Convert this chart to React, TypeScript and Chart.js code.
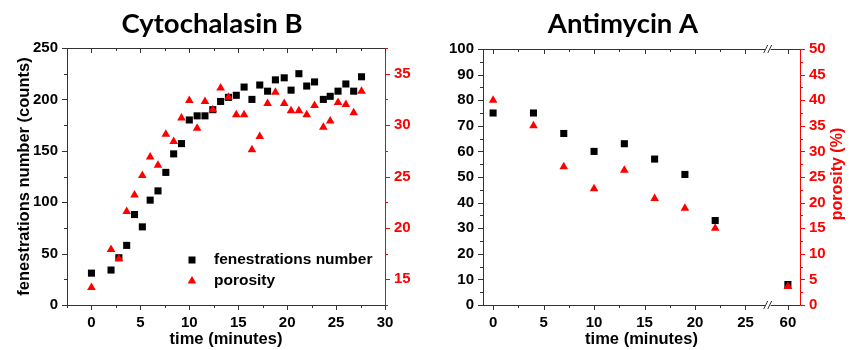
import React, { useEffect, useRef } from 'react';
import { Chart, registerables } from 'chart.js';

Chart.register(...registerables);

// ---------- Cytochalasin B (left panel) ----------
const CB_TIME = [0, 2.0, 2.8, 3.6, 4.4, 5.2, 6.0, 6.8, 7.6, 8.4, 9.2, 10.0, 10.8, 11.6, 12.4, 13.2, 14.0, 14.8, 15.6, 16.4, 17.2, 18.0, 18.8, 19.7, 20.4, 21.2, 22.0, 22.8, 23.7, 24.4, 25.2, 26.0, 26.8, 27.6];
const CB_FEN = [31, 34, 46, 58, 88, 76, 102, 111, 129, 147, 157, 180, 184, 184, 190, 198, 202, 204, 212, 200, 214, 208, 219, 221, 209, 225, 213, 217, 200, 203, 208, 215, 208, 222];
const CB_POR = [14.2, 17.9, 17.0, 21.6, 23.2, 25.1, 26.9, 26.1, 29.1, 28.4, 30.7, 32.4, 29.7, 32.3, 31.5, 33.6, 32.7, 31.0, 31.0, 27.6, 28.9, 32.1, 33.2, 32.1, 31.4, 31.4, 31.0, 31.9, 29.8, 30.4, 32.2, 32.0, 31.2, 33.3];

// ---------- Antimycin A (right panel) ----------
const AA_TIME = [0, 4, 7, 10, 13, 16, 19, 22, 60];
const AA_FEN = [75, 75, 67, 60, 63, 57, 51, 33, 8];
const AA_POR = [40, 35, 27, 22.7, 26.3, 20.8, 18.9, 15, 3.6];
const AA_X_TICKS = [0, 2.5, 5, 7.5, 10, 12.5, 15, 17.5, 20, 22.5, 25, 60];

const TITLES = ['Cytochalasin B', 'Antimycin A'];
const SERIES_NAMES = ['fenestrations number', 'porosity'];
const X_TITLE = 'time (minutes)';
const Y_TITLE = 'fenestrations number (counts)';
const Y2_TITLE = 'porosity (%)';

// broken x axis of the right panel
const BREAK_POS = 27.3;
const GAP = 30.8;
const toPos = (t: number) => (t > BREAK_POS ? t - GAP : t);
const fromPos = (v: number) => (v > BREAK_POS ? v + GAP : v);

const FONT = '"Liberation Sans", Arial, sans-serif';
const TITLE_FONT = 'Lato, "Open Sans", sans-serif';
const RED = '#ff0000';
const AXIS = '#333333';

const isMult = (v: number, step: number) => Math.abs(v / step - Math.round(v / step)) < 1e-6;
const labelEvery = (step: number) => (v: any) => (isMult(Number(v), step) ? String(Math.round(Number(v) * 100) / 100) : '');

const tickFont = { family: FONT, size: 15, weight: 'bold' as const };
const titleFont = { family: FONT, size: 16.5, weight: 'bold' as const };
const gridOpts = { display: true, drawOnChartArea: false, drawTicks: true, tickLength: 5, tickColor: 'rgba(0,0,0,0)' };

const extrasPlugin = {
  id: 'extras',
  afterDraw(chart: any, _args: any, o: any) {
    const { ctx, chartArea: a, scales } = chart;
    ctx.save();
    const line = (x1: number, y1: number, x2: number, y2: number, color: string) => {
      ctx.strokeStyle = color;
      ctx.lineWidth = 1;
      ctx.beginPath();
      ctx.moveTo(x1, y1);
      ctx.lineTo(x2, y2);
      ctx.stroke();
    };
    // top frame
    line(a.left, Math.round(a.top) + 0.5, a.right, Math.round(a.top) + 0.5, AXIS);
    // x ticks (bottom outward, top inward)
    const xs = scales.x;
    xs.ticks.forEach((t: any) => {
      const px = Math.round(xs.getPixelForValue(t.value)) + 0.5;
      const len = t.label !== '' ? 5 : 3;
      line(px, a.bottom, px, a.bottom + len, AXIS);
      line(px, a.top, px, a.top + len, AXIS);
    });
    const ys = scales.y;
    ys.ticks.forEach((t: any) => {
      const py = Math.round(ys.getPixelForValue(t.value)) + 0.5;
      const len = t.label !== '' ? 5 : 3;
      line(a.left - len, py, a.left, py, AXIS);
    });
    const y2 = scales.y2;
    y2.ticks.forEach((t: any) => {
      const py = Math.round(y2.getPixelForValue(t.value)) + 0.5;
      const len = t.label !== '' ? 5 : 3;
      line(a.right, py, a.right + len, py, RED);
    });
    // axis break
    if (o.breakPos != null) {
      const px = xs.getPixelForValue(o.breakPos);
      [a.top, a.bottom].forEach((yy: number) => {
        ctx.fillStyle = '#ffffff';
        ctx.fillRect(px - 3, yy - 2, 5, 4);
        line(px - 5, yy + 4, px - 1, yy - 4, AXIS);
        line(px - 1, yy + 4, px + 3, yy - 4, AXIS);
      });
    }
    // panel title
    ctx.fillStyle = '#000';
    ctx.font = `bold ${o.titleSize}px ${TITLE_FONT}`;
    ctx.textAlign = 'center';
    ctx.textBaseline = 'alphabetic';
    ctx.fillText(o.title, o.titleX, o.titleY);
    // legend inside the plot
    if (o.legend) {
      ctx.font = `bold 15.5px ${FONT}`;
      ctx.textAlign = 'left';
      ctx.textBaseline = 'middle';
      chart.data.datasets.forEach((ds: any, i: number) => {
        const cx = a.left + 125;
        const cy = a.bottom - 45 + i * 21;
        ctx.fillStyle = ds.backgroundColor;
        if (ds.pointStyle === 'rect') {
          ctx.fillRect(cx - 3.5, cy - 3.5, 7, 7);
        } else {
          const r = 5;
          ctx.beginPath();
          ctx.moveTo(cx, cy - r);
          ctx.lineTo(cx + r * 0.866, cy + r / 2);
          ctx.lineTo(cx - r * 0.866, cy + r / 2);
          ctx.closePath();
          ctx.fill();
        }
        ctx.fillStyle = '#000';
        ctx.fillText(ds.label, a.left + 147, cy);
      });
    }
    // right axis title (reads bottom to top)
    if (o.rightTitle) {
      ctx.translate(a.right + 38, (a.top + a.bottom) / 2 - 3);
      ctx.rotate(-Math.PI / 2);
      ctx.fillStyle = RED;
      ctx.font = `bold 16px ${FONT}`;
      ctx.textAlign = 'center';
      ctx.textBaseline = 'middle';
      ctx.fillText(o.rightTitle, 0, 0);
    }
    ctx.restore();
  },
};

function datasets(times: number[], fen: number[], por: number[], mapX: (t: number) => number) {
  return [
    {
      label: SERIES_NAMES[0],
      data: times.map((t, i) => ({ x: mapX(t), y: fen[i] })),
      yAxisID: 'y',
      pointStyle: 'rect',
      pointRadius: 5,
      pointHoverRadius: 5,
      backgroundColor: '#000000',
      borderColor: '#000000',
      borderWidth: 0,
      showLine: false,
      order: 1,
    },
    {
      label: SERIES_NAMES[1],
      data: times.map((t, i) => ({ x: mapX(t), y: por[i] })),
      yAxisID: 'y2',
      pointStyle: 'triangle',
      pointRadius: 5,
      pointHoverRadius: 5,
      backgroundColor: RED,
      borderColor: RED,
      borderWidth: 0,
      showLine: false,
      order: 0,
    },
  ];
}

function leftConfig(): any {
  return {
    type: 'scatter',
    data: { datasets: datasets(CB_TIME, CB_FEN, CB_POR, (t) => t) },
    plugins: [extrasPlugin],
    options: {
      responsive: false,
      animation: false,
      layout: { padding: { top: 48, left: 0, right: 0, bottom: 0 } },
      plugins: {
        legend: { display: false },
        tooltip: { enabled: false },
        extras: { title: TITLES[0], titleX: 212, titleY: 33, titleSize: 27.5, legend: true },
      },
      scales: {
        x: {
          type: 'linear', min: -2.5, max: 30,
          afterFit: (s: any) => { s.height = 45; },
          ticks: { stepSize: 2.5, autoSkip: false, maxRotation: 0, font: tickFont, color: '#000', padding: 4, callback: labelEvery(5) },
          grid: gridOpts,
          border: { display: true, color: AXIS, width: 1 },
          title: { display: true, text: X_TITLE, font: titleFont, color: '#000', padding: { top: 0, bottom: 1 } },
        },
        y: {
          type: 'linear', position: 'left', min: 0, max: 250,
          afterFit: (s: any) => { s.width = 67; },
          ticks: { stepSize: 25, autoSkip: false, font: tickFont, color: '#000', padding: 4, callback: labelEvery(50) },
          grid: gridOpts,
          border: { display: true, color: AXIS, width: 1 },
          title: { display: true, text: Y_TITLE, font: titleFont, color: '#000', padding: { top: 15, bottom: 0 } },
        },
        y2: {
          type: 'linear', position: 'right', min: 12.5, max: 37.5,
          afterFit: (s: any) => { s.width = 45; },
          ticks: { stepSize: 2.5, autoSkip: false, font: tickFont, color: RED, padding: 4, callback: labelEvery(5) },
          grid: gridOpts,
          border: { display: true, color: RED, width: 1 },
        },
      },
    },
  };
}

function rightConfig(): any {
  return {
    type: 'scatter',
    data: { datasets: datasets(AA_TIME, AA_FEN, AA_POR, toPos) },
    plugins: [extrasPlugin],
    options: {
      responsive: false,
      animation: false,
      layout: { padding: { top: 49, left: 0, right: 0, bottom: 0 } },
      plugins: {
        legend: { display: false },
        tooltip: { enabled: false },
        extras: { title: TITLES[1], titleX: 193, titleY: 33, titleSize: 27.5, breakPos: BREAK_POS, rightTitle: Y2_TITLE },
      },
      scales: {
        x: {
          type: 'linear', min: -1, max: 30.4,
          afterFit: (s: any) => { s.height = 45; },
          afterBuildTicks: (s: any) => { s.ticks = AA_X_TICKS.map((v) => ({ value: toPos(v) })); },
          ticks: {
            autoSkip: false, maxRotation: 0, font: tickFont, color: '#000', padding: 4,
            callback: (v: any) => { const d = fromPos(Number(v)); return isMult(d, 5) ? String(Math.round(d)) : ''; },
          },
          grid: gridOpts,
          border: { display: true, color: AXIS, width: 1 },
          title: { display: true, text: X_TITLE, font: titleFont, color: '#000', padding: { top: 0, bottom: 1 } },
        },
        y: {
          type: 'linear', position: 'left', min: 0, max: 100,
          afterFit: (s: any) => { s.width = 53; },
          ticks: { stepSize: 5, autoSkip: false, font: tickFont, color: '#000', padding: 4, callback: labelEvery(10) },
          grid: gridOpts,
          border: { display: true, color: AXIS, width: 1 },
        },
        y2: {
          type: 'linear', position: 'right', min: 0, max: 50,
          afterFit: (s: any) => { s.width = 55; },
          ticks: { stepSize: 2.5, autoSkip: false, font: tickFont, color: RED, padding: 4, callback: labelEvery(5) },
          grid: gridOpts,
          border: { display: true, color: RED, width: 1 },
        },
      },
    },
  };
}

function Panel({ make, left, width }: { make: () => any; left: number; width: number }) {
  const ref = useRef<HTMLCanvasElement | null>(null);
  useEffect(() => {
    if (!ref.current) return;
    const chart = new Chart(ref.current, make());
    return () => chart.destroy();
  }, []);
  return (
    <div style={{ position: 'absolute', left, top: 0, width, height: 350 }}>
      <canvas ref={ref} width={width} height={350} style={{ display: 'block' }} />
    </div>
  );
}

export default function App() {
  return (
    <div style={{ position: 'absolute', left: 0, top: 0, width: 855, height: 350, background: '#fff', overflow: 'hidden' }}>
      <Panel make={leftConfig} left={0} width={430} />
      <Panel make={rightConfig} left={430} width={425} />
    </div>
  );
}
